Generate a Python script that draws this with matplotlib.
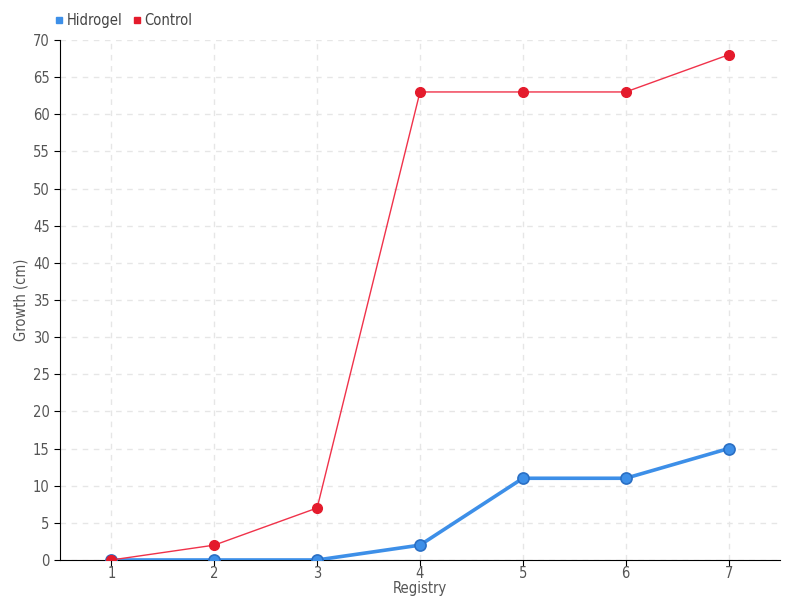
import matplotlib
matplotlib.use('Agg')
import matplotlib.pyplot as plt
from matplotlib.lines import Line2D

registry = [1, 2, 3, 4, 5, 6, 7]
hidrogel = [0, 0, 0, 2, 11, 11, 15]
control = [0, 2, 7, 63, 63, 63, 68]

plt.rcParams['font.family'] = ['DejaVu Sans']
plt.rcParams['font.stretch'] = 'condensed'

fig = plt.figure(figsize=(8, 6), dpi=100)
ax = fig.add_axes([0.075, 0.0667, 0.9, 0.8667])

ax.plot(registry, hidrogel, color='#3d8fe8', lw=2.6, marker='o', ms=8,
        mfc='#3d8fe8', mec='#2a6fc4', mew=1.2, zorder=3)
ax.plot(registry, control, color='#f0324a', lw=1, marker='o', ms=7,
        mfc='#e41b2c', mec='#e41b2c', zorder=4)

ax.set_xlim(0.5, 7.5)
ax.set_ylim(0, 70)
ax.set_xticks(registry)
ax.set_yticks(range(0, 71, 5))
ax.grid(True, color='#e6e6e6', ls=(0, (4, 4)), lw=1)
ax.set_axisbelow(True)
for s in ['top', 'right']:
    ax.spines[s].set_visible(False)
ax.spines['left'].set_color('black')
ax.spines['bottom'].set_color('black')
ax.tick_params(axis='both', colors='#555555', labelsize=10.5, length=4)
ax.tick_params(axis='x', pad=0)
ax.tick_params(axis='both', color='black')

ax.set_xlabel('Registry', color='#555555', fontsize=10.5, labelpad=0)
ax.set_ylabel('Growth (cm)', color='#555555', fontsize=10.5)
ax.yaxis.set_label_coords(-0.044, 0.5)

handles = [Line2D([], [], ls='none', marker='s', ms=5, color='#3d8fe8'),
           Line2D([], [], ls='none', marker='s', ms=5, color='#e41b2c')]
fig.legend(handles, ['Hidrogel', 'Control'], loc='upper left',
           bbox_to_anchor=(0.05, 1.0), ncol=2, frameon=False,
           handletextpad=0.1, columnspacing=0.6, handlelength=0.8,
           labelcolor='#444444', fontsize=10.5)

fig.savefig('out.png', dpi=100)
